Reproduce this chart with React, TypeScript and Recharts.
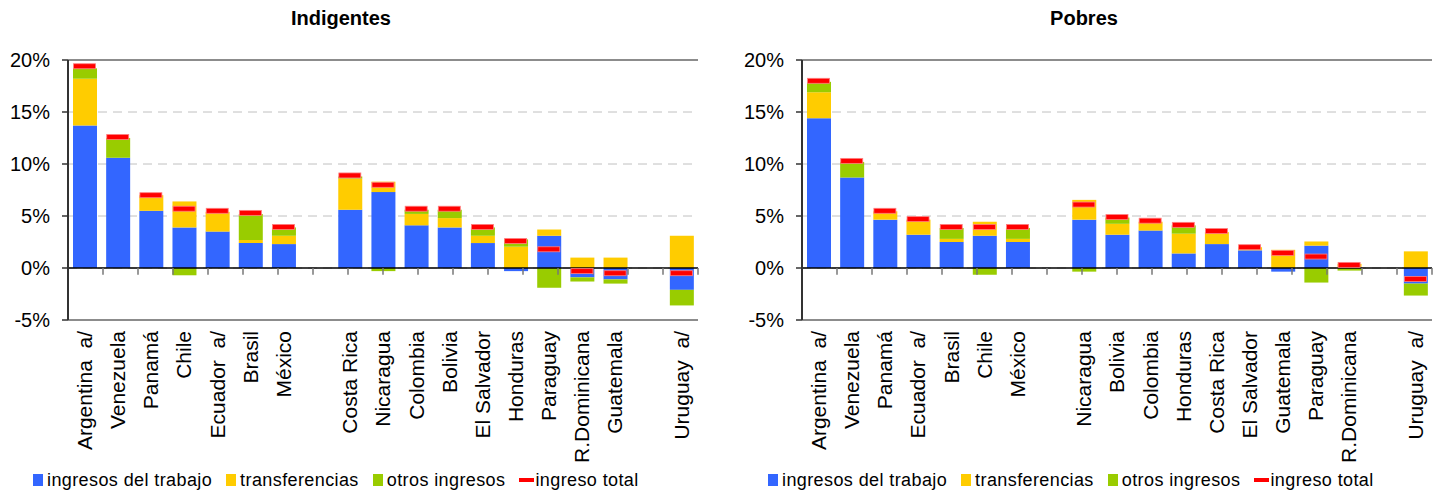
import React from 'react'
import { ComposedChart, Bar, Line, XAxis, YAxis, CartesianGrid, ReferenceLine } from 'recharts'

// Indigentes
const indCountries = ['Argentina  a/', 'Venezuela', 'Panamá', 'Chile', 'Ecuador  a/', 'Brasil', 'México', '', 'Costa Rica', 'Nicaragua', 'Colombia', 'Bolivia', 'El Salvador', 'Honduras', 'Paraguay', 'R.Dominicana', 'Guatemala', ' ', 'Uruguay  a/']
const indTrabajo = [13.7, 10.6, 5.5, 3.9, 3.5, 2.4, 2.3, null, 5.6, 7.3, 4.1, 3.9, 2.4, -0.3, 3.1, -0.9, -1.1, null, -2.1]
const indTransf = [4.5, 0, 1.5, 2.5, 1.9, 0.3, 0.8, null, 3.0, 1.0, 1.1, 0.9, 0.7, 2.05, 0.6, 1.0, 1.0, null, 3.1]
const indOtros = [1.0, 1.9, 0, -0.7, 0, 2.5, 0.8, null, 0.2, -0.3, 0.4, 0.8, 0.8, 0.7, -1.9, -0.4, -0.4, null, -1.5]
const indTotal = [19.4, 12.6, 7.0, 5.7, 5.5, 5.3, 3.95, null, 8.9, 8.0, 5.7, 5.7, 3.95, 2.6, 1.8, -0.3, -0.5, null, -0.5]

// Pobres
const pobCountries = ['Argentina  a/', 'Venezuela', 'Panamá', 'Ecuador  a/', 'Brasil', 'Chile', 'México', '', 'Nicaragua', 'Bolivia', 'Colombia', 'Honduras', 'Costa Rica', 'El Salvador', 'Guatemala', 'Paraguay', 'R.Dominicana', ' ', 'Uruguay  a/']
const pobTrabajo = [14.4, 8.7, 4.65, 3.2, 2.5, 3.1, 2.5, null, 4.65, 3.2, 3.6, 1.4, 2.3, 1.7, -0.35, 2.15, 0.1, null, -1.5]
const pobTransf = [2.5, 0, 0.8, 1.45, 0.3, 1.35, 0.3, null, 1.9, 1.05, 0.85, 1.9, 1.15, 0.3, 1.75, 0.4, 0.3, null, 1.6]
const pobOtros = [1.0, 1.5, 0, 0, 1.05, -0.65, 1.05, null, -0.35, 0.6, 0, 0.8, 0, 0, 0, -1.4, -0.25, null, -1.15]
const pobTotal = [18.0, 10.3, 5.5, 4.7, 3.95, 3.95, 3.95, null, 6.1, 4.9, 4.55, 4.15, 3.55, 2.0, 1.45, 1.1, 0.3, null, -1.05]

const yTicks = [-5, 0, 5, 10, 15, 20]

const BLUE = '#3366ff'
const YELLOW = '#ffcc00'
const GREEN = '#99cc00'
const RED = '#ff0000'
const BORDER = '#8c8c8c'
const FONT = '"Liberation Sans", Arial, sans-serif'

const TotalMark = (p: any) => {
  const k = p.key ?? `m-${p.index}`
  if (p.cx == null || p.cy == null || p.value == null) return <g key={k} />
  return (
    <rect key={k} x={p.cx - 11} y={p.cy - 2.5} width={22} height={5}
      fill={RED} stroke="#ff8080" strokeWidth={0.8} />
  )
}

const CountryTick = (p: any) => (
  <text x={p.x} y={p.y + 3} dy="0.35em" textAnchor="end" fontSize={21}
    fill="#000" fontFamily={FONT} style={{ whiteSpace: 'pre' }}
    transform={`rotate(-90, ${p.x}, ${p.y + 3})`}>
    {p.payload.value}
  </text>
)

function Legend({ left }: { left: number }) {
  const items = [
    { label: 'ingresos del trabajo', color: BLUE },
    { label: 'transferencias', color: YELLOW },
    { label: 'otros ingresos', color: GREEN },
    { label: 'ingreso total', color: RED, dash: true },
  ]
  return (
    <div style={{
      position: 'absolute', left, top: 468, display: 'flex', alignItems: 'center',
      fontSize: 18, letterSpacing: 0.4, fontFamily: FONT, whiteSpace: 'nowrap', height: 24,
    }}>
      {items.map((it) => (
        <div key={it.label} style={{ display: 'flex', alignItems: 'center', marginRight: 14 }}>
          <span style={{
            display: 'inline-block', background: it.color,
            width: it.dash ? 15 : 10, height: it.dash ? 4 : 12, marginRight: it.dash ? 1 : 4,
          }} />
          <span>{it.label}</span>
        </div>
      ))}
    </div>
  )
}

function Panel(props: {
  title: string, titleX: number, left: number, width: number, yWidth: number, marginRight: number,
  countries: string[], trabajo: (number | null)[], transf: (number | null)[],
  otros: (number | null)[], total: (number | null)[], legendLeft: number,
}) {
  const data = props.countries.map((name, i) => ({
    name,
    trabajo: props.trabajo[i],
    transf: props.transf[i],
    otros: props.otros[i],
    total: props.total[i],
  }))
  const bounds = props.countries.map((_, i) => i + 1)
  return (
    <>
      <div style={{
        position: 'absolute', left: props.titleX - 150, width: 300, top: 6, textAlign: 'center',
        fontWeight: 'bold', fontSize: 20, lineHeight: '24px', fontFamily: FONT,
      }}>{props.title}</div>
      <div style={{ position: 'absolute', left: props.left, top: 0 }}>
        <ComposedChart width={props.width} height={493} data={data} stackOffset="sign"
          margin={{ top: 60, right: props.marginRight, bottom: 33, left: 8 }}>
          <CartesianGrid vertical={false} stroke="#c0c0c0" strokeDasharray="9 6" />
          <XAxis dataKey="name" interval={0} height={140} tick={<CountryTick />} tickLine={false}
            axisLine={{ stroke: BORDER, strokeWidth: 2 }} />
          <XAxis xAxisId="pos" type="number" domain={[0, 19]} hide allowDataOverflow />
          <YAxis domain={[-5, 20]} ticks={yTicks} width={props.yWidth} tickSize={6} tickMargin={12}
            tickFormatter={(v) => `${v}%`} interval={0}
            tick={{ fontSize: 20, fill: '#000', fontFamily: FONT }}
            axisLine={{ stroke: '#333', strokeWidth: 2 }} tickLine={{ stroke: '#333', strokeWidth: 1.5 }} />
          <Bar dataKey="trabajo" stackId="s" fill={BLUE} barSize={24} isAnimationActive={false} />
          <Bar dataKey="transf" stackId="s" fill={YELLOW} barSize={24} isAnimationActive={false} />
          <Bar dataKey="otros" stackId="s" fill={GREEN} barSize={24} isAnimationActive={false} />
          <ReferenceLine y={20} stroke={BORDER} strokeWidth={2} />
          <ReferenceLine xAxisId="pos" x={19} stroke={BORDER} strokeWidth={2} />
          <ReferenceLine y={0} stroke="#000" strokeWidth={1.5} />
          {bounds.map((k) => (
            <ReferenceLine key={k} xAxisId="pos" stroke="#777" strokeWidth={1.5}
              segment={[{ x: k, y: 0 }, { x: k, y: -0.65 }]} />
          ))}
          <Line dataKey="total" stroke="none" strokeWidth={0} dot={TotalMark} activeDot={false}
            isAnimationActive={false} legendType="none" />
        </ComposedChart>
      </div>
      <Legend left={props.legendLeft} />
    </>
  )
}

export default function App() {
  return (
    <div style={{ position: 'absolute', left: 0, top: 0, width: 1441, height: 493, background: '#fff', fontFamily: FONT }}>
      <Panel title="Indigentes" titleX={341} left={0} width={720} yWidth={60} marginRight={22}
        countries={indCountries} trabajo={indTrabajo} transf={indTransf} otros={indOtros} total={indTotal}
        legendLeft={33} />
      <Panel title="Pobres" titleX={1084} left={730} width={711} yWidth={64} marginRight={9}
        countries={pobCountries} trabajo={pobTrabajo} transf={pobTransf} otros={pobOtros} total={pobTotal}
        legendLeft={768} />
    </div>
  )
}
